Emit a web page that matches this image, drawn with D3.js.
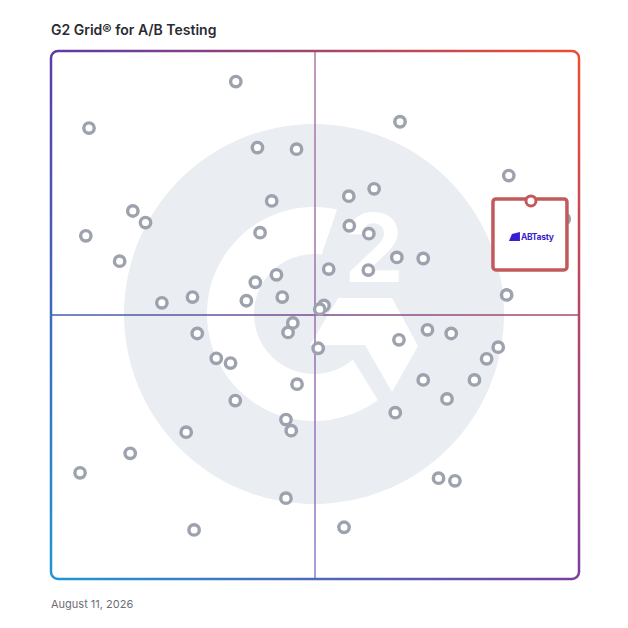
<!DOCTYPE html>
<html>
<head>
<meta charset="utf-8">
<script src="https://cdn.jsdelivr.net/npm/d3@7"></script>
<style>
  body { margin: 0; background: #fff; }
  svg { display: block; }
</style>
</head>
<body>
<svg id="chart" width="628" height="628"></svg>
<script>
// satisfaction (x) and market presence (y), 0-100
const satisfaction = [35.0, 7.2, 66.1, 39.1, 46.5, 86.7, 61.2, 56.4, 41.8, 15.5,
  17.9, 6.6, 39.6, 56.5, 60.2, 13.0, 65.5, 70.5, 52.6, 60.1,
  42.7, 38.7, 43.8, 37.0, 26.8, 21.0, 86.3, 51.7, 50.9, 45.8,
  44.9, 27.7, 71.3, 75.8, 65.9, 50.6, 31.3, 34.0, 84.7, 82.5,
  70.5, 80.2, 46.6, 75.0, 34.9, 65.2, 44.5, 45.5, 25.6, 15.0,
  5.5, 73.4, 76.5, 44.5, 27.1, 55.5, 97.2]
const presence = [94.2, 85.4, 86.6, 81.7, 81.4, 76.4, 73.9, 72.5, 71.6, 69.7,
  67.5, 65.0, 65.6, 66.9, 65.4, 60.2, 60.9, 60.7, 58.7, 58.5,
  57.6, 56.2, 53.4, 52.7, 53.4, 52.3, 53.8, 51.8, 51.1, 48.5,
  46.7, 46.5, 47.2, 46.5, 45.3, 43.7, 41.8, 40.9, 43.9, 41.7,
  37.7, 37.7, 36.9, 34.1, 33.8, 31.5, 30.2, 28.1, 27.8, 23.8,
  20.1, 19.1, 18.6, 15.3, 9.3, 9.8, 68.2]
const highlightName = 'ABTasty'
const highlightPoint = [90.9, 71.6]
const chartTitle = 'G2 Grid® for A/B Testing'
const chartDate = 'August 11, 2026'

const svg = d3.select('#chart')
const x = d3.scaleLinear().domain([0, 100]).range([51, 579])
const y = d3.scaleLinear().domain([0, 100]).range([579, 51])
const cx = x(50), cy = y(50)

const defs = svg.append('defs')

function grad(id, stops, x1, y1, x2, y2, units) {
  let g = defs.append('linearGradient').attr('id', id)
    .attr('x1', x1).attr('y1', y1).attr('x2', x2).attr('y2', y2)
  if (units) g.attr('gradientUnits', units)
  stops.forEach((c, i) => {
    g.append('stop').attr('offset', i / (stops.length - 1)).attr('stop-color', c)
  })
}
grad('gTop', ['#5a3aa8', '#f2502e'], 0, 0, 1, 0)
grad('gBot', ['#1c9ad8', '#7a3ca0'], 0, 0, 1, 0)
grad('gFade', ['#000', '#fff'], 0, 0, 0, 1)
grad('gH', ['#3e5fb0', '#7a4a90', '#b04a66'], x(0), 0, x(100), 0, 'userSpaceOnUse')
grad('gV', ['#b07aa0', '#9b70b0', '#8c7cc8'], 0, y(100), 0, y(0), 'userSpaceOnUse')

defs.append('mask').attr('id', 'fadeMask')
  .append('rect').attr('x', 40).attr('y', 40).attr('width', 550).attr('height', 550)
  .attr('fill', 'url(#gFade)')
defs.append('mask').attr('id', 'frameMask')
  .append('rect')
  .attr('x', x(0)).attr('y', y(100))
  .attr('width', x(100) - x(0)).attr('height', y(0) - y(100))
  .attr('rx', 7)
  .attr('fill', 'none').attr('stroke', '#fff').attr('stroke-width', 2.5)

// G2 watermark
const wm = svg.append('g').attr('transform', `translate(${cx - 1},${cy - 1})`)
wm.append('circle').attr('r', 190).attr('fill', '#eaedf1')
const pt = (r, deg) => {
  let a = deg * Math.PI / 180
  return [r * Math.sin(a), -r * Math.cos(a)]
}
let oT = pt(107, 12.4), oE = pt(107, 143.4), iE = pt(60, 139.5), iT = pt(60, 7.4)
wm.append('path')
  .attr('d', `M${oT}A107,107 0 1 0 ${oE}L${iE}A60,60 0 1 1 ${iT}Z`)
  .attr('fill', '#fff')
wm.append('path')
  .attr('d', 'M24,-16L78,-16L104,32L78,78L51,31L-4,31Z')
  .attr('fill', '#fff')
wm.append('text')
  .attr('x', 30).attr('y', -32)
  .attr('font-family', 'Inter, sans-serif').attr('font-weight', 700)
  .attr('font-size', 95).attr('fill', '#fff')
  .text('2')

// quadrant lines
svg.append('line')
  .attr('x1', x(0)).attr('x2', x(100)).attr('y1', cy).attr('y2', cy)
  .attr('stroke', 'url(#gH)').attr('stroke-width', 1.5)
svg.append('line')
  .attr('x1', cx).attr('x2', cx).attr('y1', y(100)).attr('y2', y(0))
  .attr('stroke', 'url(#gV)').attr('stroke-width', 1.5)

// frame with four-corner gradient
const frame = svg.append('g').attr('mask', 'url(#frameMask)')
frame.append('rect').attr('x', 40).attr('y', 40).attr('width', 550).attr('height', 550)
  .attr('fill', 'url(#gTop)')
frame.append('rect').attr('x', 40).attr('y', 40).attr('width', 550).attr('height', 550)
  .attr('fill', 'url(#gBot)').attr('mask', 'url(#fadeMask)')

// products
svg.append('g').selectAll('circle')
  .data(d3.range(satisfaction.length))
  .join('circle')
  .attr('cx', i => x(satisfaction[i]))
  .attr('cy', i => y(presence[i]))
  .attr('r', 5.2)
  .attr('fill', '#fff')
  .attr('stroke', '#9da2ae')
  .attr('stroke-width', 3.4)

// highlighted vendor
const hx = x(highlightPoint[0]), hy = y(highlightPoint[1])
const hl = svg.append('g')
hl.append('rect')
  .attr('x', hx - 38).attr('y', hy - 2).attr('width', 74).attr('height', 71)
  .attr('rx', 3)
  .attr('fill', '#fff').attr('stroke', '#c25a5c').attr('stroke-width', 3.5)
hl.append('path')
  .attr('d', `M${hx - 22},${hy + 40}L${hx - 19},${hy + 33}L${hx - 11},${hy + 31}L${hx - 11},${hy + 40}Z`)
  .attr('fill', '#3a1fd0')
hl.append('text')
  .attr('x', hx - 10).attr('y', hy + 39.5)
  .attr('font-family', 'Inter, sans-serif').attr('font-weight', 700)
  .attr('font-size', 8.5).attr('letter-spacing', -0.3)
  .attr('fill', '#3a1fd0')
  .text(highlightName)
hl.append('circle')
  .attr('cx', hx).attr('cy', hy).attr('r', 5)
  .attr('fill', '#fff').attr('stroke', '#c25a5c').attr('stroke-width', 3)

// title + date
svg.append('text')
  .attr('x', x(0)).attr('y', 35)
  .attr('font-family', 'Inter, sans-serif').attr('font-weight', 600)
  .attr('font-size', 14).attr('fill', '#2b2b33')
  .text(chartTitle)
svg.append('text')
  .attr('x', x(0)).attr('y', 608)
  .attr('font-family', 'Inter, sans-serif')
  .attr('font-size', 11).attr('fill', '#6d6d78')
  .text(chartDate)
</script>
</body>
</html>
